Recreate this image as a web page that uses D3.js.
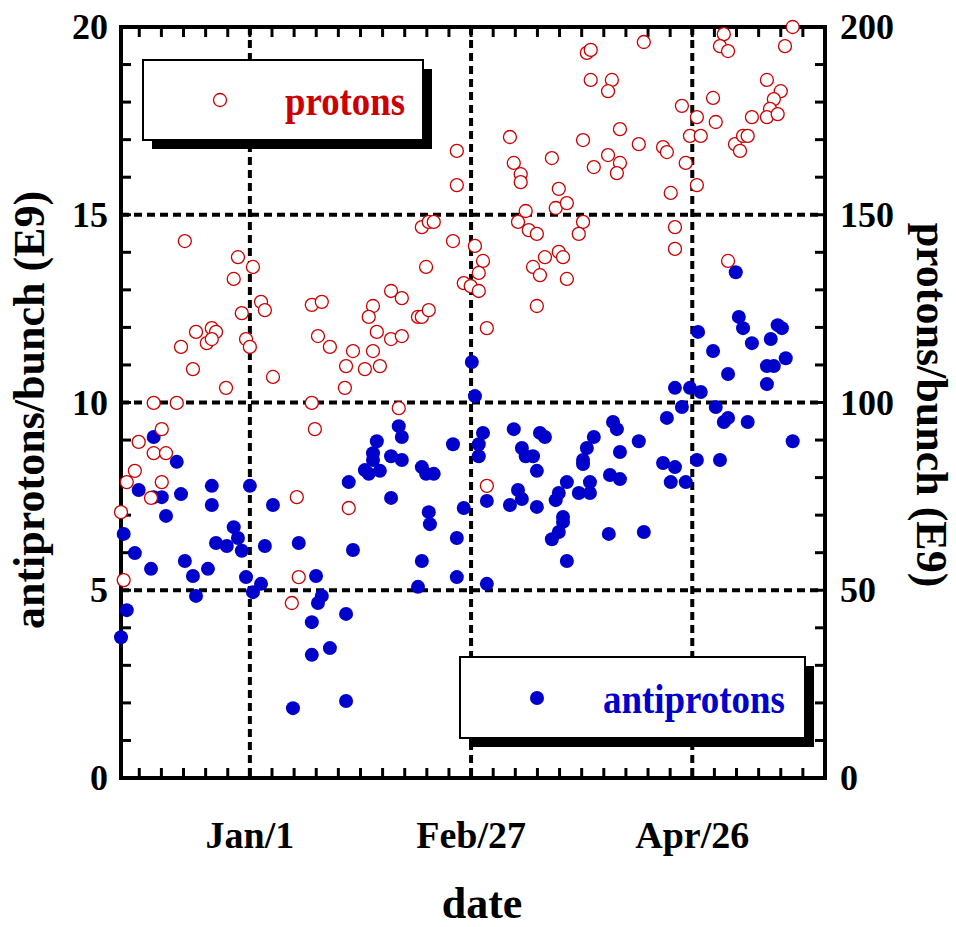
<!DOCTYPE html>
<html>
    <head>
        <title>protons and antiprotons per bunch</title>
        <script src="https://d3js.org/d3.v7.min.js"></script>
        <style>
            * {
                margin: 0;
                padding: 0;
            }

            body {
                background-color: #ffffff;
                overflow: hidden;
            }

            text {
                font-family: 'Liberation Serif', 'Times New Roman', serif;
                font-weight: bold;
            }

            .grid {
                stroke: #000;
                stroke-width: 4px;
                stroke-dasharray: 8, 5;
                fill: none;
            }

            .tick {
                stroke: #000;
                stroke-width: 3px;
            }
        </style>
    </head>
    <body>
        <script>
            // days counted from Jan 1
            const dayTicks = [0, 57.5, 115];
            const dayLabels = ['Jan/1', 'Feb/27', 'Apr/26'];
            const leftTicks = [0, 5, 10, 15, 20];
            const rightTicks = [0, 50, 100, 150, 200];

            // protons/bunch (E9), right axis
            const protonDay = [
                -16.9, -3.1, 0.8, -4.2, 2.9, 3.9, -2.1, 16.1, 18.7, -14.0, -9.9, -8.8, -11.2, -9.9, -1.0, 0.0, -17.9, 17.7,
                20.8, 26.8, 25.0, -14.8, 6.0, -6.2, 24.7, -25.0, -19.0, 16.1, 16.9, -22.9, -28.9, -25.0, -21.8, -29.9, -32.0,
                -22.9, -25.7, 12.2, 25.7, -33.5, -32.8, 12.7, 10.9, 87.6, 88.6, 88.6, 94.1, 93.1, 67.6, 86.6, 53.8, 68.6, 78.5,
                89.4, 93.1, 70.4, 70.4, 53.8, 80.3, 79.5, 82.4, 71.7, 44.7, 46.5, 47.8, 69.7, 86.6, 72.5, 74.6, 85.5, 52.8,
                58.5, 60.6, 76.7, 80.3, 81.4, 45.8, 73.6, 59.5, 55.6, 57.4, 59.5, 75.4, 82.4, 74.6, 36.7, 39.5, 32.0, 30.9,
                43.7, 44.7, 46.5, 33.0, 36.7, 39.5, 61.6, 32.0, 29.9, 33.8, 38.7, 61.6, 102.4, 123.2, 122.2, 124.3, 141.1,
                139.1, 134.4, 138.0, 136.2, 120.4, 112.3, 116.2, 121.1, 135.2, 134.4, 137.2, 130.5, 96.2, 101.1, 107.4, 108.4,
                114.4, 117.2, 126.1, 127.4, 128.2, 129.4, 96.2, 95.4, 113.3, 116.2, 109.4, 110.5, 110.5, 124.3
            ];
            const protonVal = [
                143.0, 138.7, 136.1, 132.9, 126.8, 124.6, 123.8, 126.0, 126.8, 118.8, 119.8, 118.8, 115.8, 116.9, 116.9, 114.8,
                114.8, 117.7, 114.8, 113.7, 109.7, 108.9, 106.8, 103.9, 103.9, 99.9, 99.9, 99.9, 92.9, 92.9, 89.5, 86.5, 86.5,
                81.8, 78.8, 78.8, 74.6, 74.8, 71.9, 70.8, 52.7, 53.5, 46.6, 193.1, 193.9, 185.9, 185.9, 182.9, 170.7, 169.9,
                167.0, 163.8, 165.1, 162.7, 165.9, 160.8, 158.7, 157.9, 156.9, 151.8, 153.1, 151.0, 146.7, 148.1, 148.1, 148.1,
                148.1, 145.9, 144.9, 144.9, 143.0, 141.7, 137.7, 138.7, 140.1, 138.7, 136.1, 136.1, 134.5, 131.8, 131.0, 129.7,
                133.9, 132.9, 125.7, 129.7, 127.8, 125.7, 122.8, 122.8, 122.8, 124.6, 118.8, 116.9, 117.7, 119.8, 113.7, 108.9,
                109.7, 98.5, 77.8, 196.0, 198.1, 194.9, 193.6, 200.0, 194.9, 185.9, 182.9, 180.8, 181.1, 179.0, 176.0, 174.7,
                178.2, 176.0, 176.8, 176.0, 172.8, 168.8, 168.0, 166.7, 171.0, 171.0, 168.8, 167.0, 171.0, 171.0, 163.8, 161.1,
                163.8, 157.9, 155.8, 146.7, 140.9, 137.7
            ];

            // antiprotons/bunch (E9), left axis
            const pbarDay = [
                -25.0, -19.0, -28.9, -25.0, -22.9, -17.9, -9.9, 0.0, 25.7, -9.9, 6.0, -21.8, -32.8, -29.9, -25.7, -16.9, -14.8,
                -14.0, -10.9, -8.8, -6.0, -4.2, -3.1, -2.1, -1.0, 0.8, 2.9, 3.9, 12.7, 17.2, 18.7, 17.7, 16.1, 20.8, 16.1, 25.0,
                26.8, -32.0, -33.5, 11.2, 25.0, 57.7, 58.5, 38.7, 39.5, 33.0, 32.0, 32.0, 36.7, 39.5, 29.9, 30.9, 33.8, 44.7,
                45.8, 47.8, 52.8, 60.6, 59.5, 59.5, 68.6, 75.4, 76.7, 70.7, 71.7, 73.6, 74.6, 89.4, 87.6, 86.6, 86.6, 94.4,
                93.6, 82.4, 80.3, 79.5, 88.4, 85.5, 88.4, 69.7, 70.7, 67.6, 61.6, 55.6, 74.6, 81.4, 46.5, 36.7, 46.8, 53.8,
                44.7, 53.8, 43.7, 61.6, 78.5, 80.3, 81.4, 82.4, 126.3, 127.1, 128.2, 137.2, 138.3, 116.5, 130.5, 135.4, 120.4,
                139.3, 134.4, 136.2, 124.3, 134.4, 110.5, 114.4, 117.2, 112.3, 121.1, 108.4, 123.2, 124.3, 129.4, 95.4, 101.1,
                141.1, 96.2, 107.4, 110.5, 116.2, 122.2, 96.2, 109.4, 113.3, 93.3, 102.4
            ];
            const pbarVal = [
                9.08, 8.42, 7.67, 7.48, 7.48, 7.56, 7.78, 7.78, 7.88, 7.27, 7.27, 6.98, 6.5, 5.99, 5.57, 5.78, 5.38, 4.85, 5.57,
                6.26, 6.18, 6.68, 6.39, 6.05, 5.35, 4.95, 5.17, 6.18, 6.26, 5.38, 4.85, 4.66, 4.15, 3.46, 3.28, 4.37, 6.07,
                4.47, 3.75, 1.86, 2.05, 11.08, 10.17, 9.37, 9.08, 8.97, 8.65, 8.47, 8.57, 8.47, 8.2, 8.1, 8.18, 8.28, 8.1, 8.1,
                8.89, 9.19, 8.89, 8.57, 9.29, 9.19, 9.08, 8.79, 8.57, 8.57, 8.18, 9.08, 8.79, 8.47, 8.36, 9.48, 8.07, 7.88,
                7.59, 7.4, 7.88, 7.59, 7.59, 7.67, 7.43, 7.27, 7.38, 7.19, 7.22, 6.95, 7.08, 7.46, 6.76, 6.39, 5.78, 5.35,
                5.09, 5.17, 6.36, 6.55, 6.82, 5.78, 13.47, 12.28, 11.98, 12.06, 11.98, 11.88, 11.58, 11.69, 11.37, 11.18,
                10.97, 10.97, 10.76, 10.49, 10.39, 10.39, 10.28, 9.88, 9.88, 9.59, 9.48, 9.59, 9.48, 9.29, 8.97, 8.97, 8.68,
                8.39, 8.28, 8.47, 8.47, 7.96, 7.88, 7.88, 6.5, 6.55
            ];

            const width = 956;
            const height = 927;
            const plot = { left: 121, right: 825, top: 27, bottom: 778 };
            const red = '#cc0000';
            const blue = '#0000cc';

            const svg = d3.select('body').append('svg').attr('width', width).attr('height', height);

            const x = d3.scaleLinear().domain([-33.5, 149.5]).range([plot.left, plot.right]);
            const yL = d3.scaleLinear().domain([0, 20]).range([plot.bottom, plot.top]);
            const yR = d3.scaleLinear().domain([0, 200]).range([plot.bottom, plot.top]);

            // grid
            const grid = svg.append('g');
            grid.selectAll('.gx')
                .data(dayTicks)
                .enter()
                .append('line')
                .attr('class', 'grid')
                .attr('x1', (d) => x(d))
                .attr('x2', (d) => x(d))
                .attr('y1', plot.top)
                .attr('y2', plot.bottom);
            grid.selectAll('.gy')
                .data(leftTicks.slice(1, -1))
                .enter()
                .append('line')
                .attr('class', 'grid')
                .attr('x1', plot.left)
                .attr('x2', plot.right)
                .attr('y1', (d) => yL(d))
                .attr('y2', (d) => yL(d));

            // minor ticks, pointing inward
            const minorDays = d3.range(-28.75, 149.6, 5.75);
            const minorY = d3.range(1, 20, 1);
            const ticks = svg.append('g');
            minorDays.forEach((d) => {
                ticks.append('line').attr('class', 'tick').attr('x1', x(d)).attr('x2', x(d)).attr('y1', plot.top).attr('y2', plot.top + 10);
                ticks.append('line').attr('class', 'tick').attr('x1', x(d)).attr('x2', x(d)).attr('y1', plot.bottom).attr('y2', plot.bottom - 10);
            });
            minorY.forEach((v) => {
                ticks.append('line').attr('class', 'tick').attr('x1', plot.left).attr('x2', plot.left + 10).attr('y1', yL(v)).attr('y2', yL(v));
                ticks.append('line').attr('class', 'tick').attr('x1', plot.right).attr('x2', plot.right - 10).attr('y1', yR(v * 10)).attr('y2', yR(v * 10));
            });

            // frame
            svg.append('rect')
                .attr('x', plot.left)
                .attr('y', plot.top)
                .attr('width', plot.right - plot.left)
                .attr('height', plot.bottom - plot.top)
                .attr('fill', 'none')
                .attr('stroke', '#000')
                .attr('stroke-width', 4);

            // tick labels
            svg.append('g')
                .selectAll('text')
                .data(leftTicks)
                .enter()
                .append('text')
                .attr('x', plot.left - 13)
                .attr('y', (d) => yL(d) + 12)
                .attr('text-anchor', 'end')
                .attr('font-size', 36)
                .text((d) => d);
            svg.append('g')
                .selectAll('text')
                .data(rightTicks)
                .enter()
                .append('text')
                .attr('x', plot.right + 15)
                .attr('y', (d) => yR(d) + 12)
                .attr('text-anchor', 'start')
                .attr('font-size', 36)
                .text((d) => d);
            svg.append('g')
                .selectAll('text')
                .data(dayTicks)
                .enter()
                .append('text')
                .attr('x', (d) => x(d))
                .attr('y', 848)
                .attr('text-anchor', 'middle')
                .attr('font-size', 38)
                .text((d, i) => dayLabels[i]);

            // axis titles
            svg.append('text')
                .attr('transform', 'translate(44,410) rotate(-90)')
                .attr('text-anchor', 'middle')
                .attr('font-size', 44)
                .text('antiprotons/bunch (E9)');
            svg.append('text')
                .attr('transform', 'translate(917,405) rotate(90)')
                .attr('text-anchor', 'middle')
                .attr('font-size', 44)
                .text('protons/bunch (E9)');
            svg.append('text')
                .attr('x', 482)
                .attr('y', 918)
                .attr('text-anchor', 'middle')
                .attr('font-size', 44)
                .text('date');

            // legends with drop shadow
            function legendBox(x0, y0, w, h) {
                svg.append('rect').attr('x', x0 + 9).attr('y', y0 + 9).attr('width', w).attr('height', h).attr('fill', '#000');
                svg.append('rect')
                    .attr('x', x0)
                    .attr('y', y0)
                    .attr('width', w)
                    .attr('height', h)
                    .attr('fill', '#fff')
                    .attr('stroke', '#000')
                    .attr('stroke-width', 2);
            }
            legendBox(143, 60, 280, 80);
            svg.append('circle').attr('cx', 220).attr('cy', 100).attr('r', 6.5).attr('fill', '#fff').attr('stroke', red).attr('stroke-width', 1.3);
            svg.append('text')
                .attr('x', 285)
                .attr('y', 115)
                .attr('font-size', 42)
                .attr('textLength', 120)
                .attr('lengthAdjust', 'spacingAndGlyphs')
                .attr('fill', red)
                .text('protons');

            legendBox(460, 657, 345, 81);
            svg.append('circle').attr('cx', 537).attr('cy', 698).attr('r', 7).attr('fill', blue);
            svg.append('text')
                .attr('x', 603)
                .attr('y', 713)
                .attr('font-size', 42)
                .attr('textLength', 182)
                .attr('lengthAdjust', 'spacingAndGlyphs')
                .attr('fill', blue)
                .text('antiprotons');

            // data
            const pbar = pbarDay.map((d, i) => ({ day: d, v: pbarVal[i] }));
            const prot = protonDay.map((d, i) => ({ day: d, v: protonVal[i] }));

            svg.append('g')
                .selectAll('circle')
                .data(pbar)
                .enter()
                .append('circle')
                .attr('cx', (d) => x(d.day))
                .attr('cy', (d) => yL(d.v))
                .attr('r', 7)
                .attr('fill', blue);

            svg.append('g')
                .selectAll('circle')
                .data(prot)
                .enter()
                .append('circle')
                .attr('cx', (d) => x(d.day))
                .attr('cy', (d) => yR(d.v))
                .attr('r', 6.5)
                .attr('fill', '#fff')
                .attr('stroke', red)
                .attr('stroke-width', 1.3);
        </script>
    </body>
</html>
